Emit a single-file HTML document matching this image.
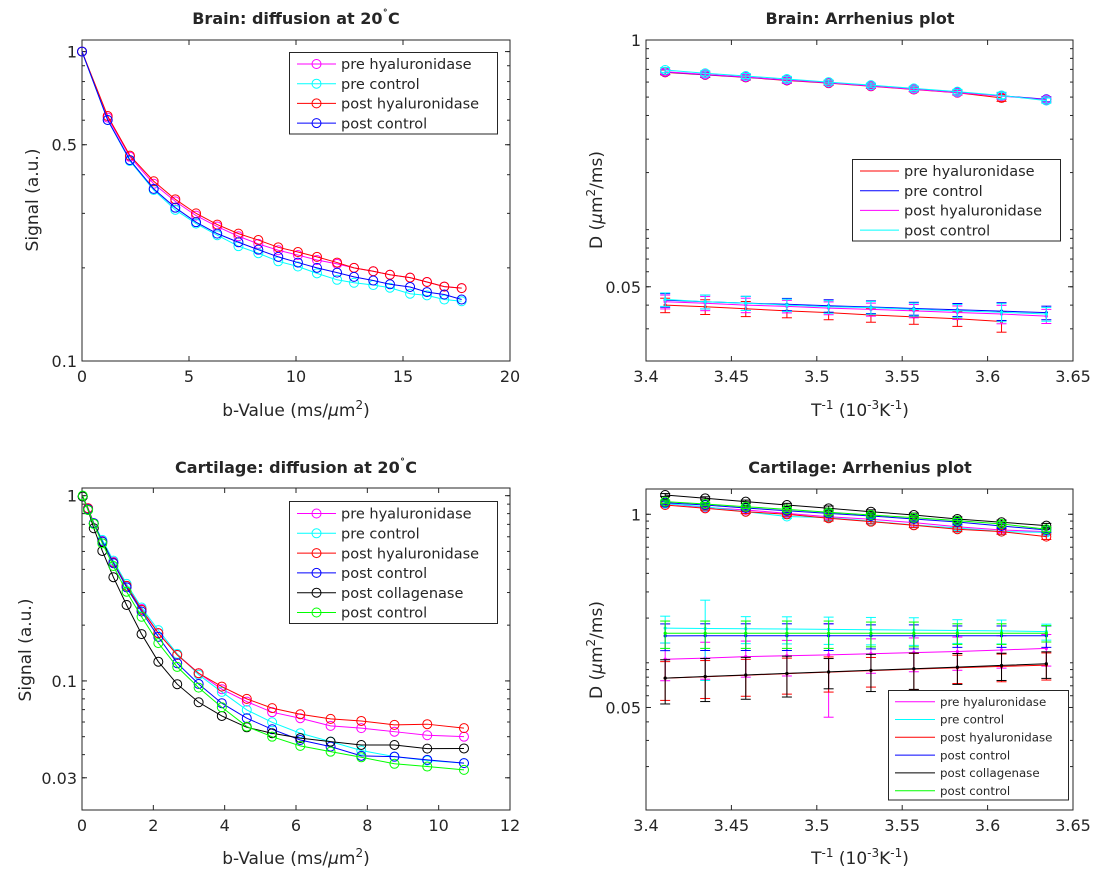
<!DOCTYPE html>
<html><head><meta charset="utf-8">
<style>
body{margin:0;background:#fff;}
svg text{font-family:"DejaVu Sans","Liberation Sans",sans-serif;fill:#262626;}
</style></head>
<body>
<svg id="fig" xmlns="http://www.w3.org/2000/svg" width="1108" height="888" viewBox="0 0 1108 888">
<rect width="1108" height="888" fill="#fff"/>
<text x="296" y="24" text-anchor="middle" font-size="16" font-weight="bold">Brain: diffusion at 20<tspan dy="-6" font-size="11">˚</tspan><tspan dy="6">C</tspan></text>
<text x="860" y="24" text-anchor="middle" font-size="16" font-weight="bold">Brain: Arrhenius plot</text>
<text x="296" y="473" text-anchor="middle" font-size="16" font-weight="bold">Cartilage: diffusion at 20<tspan dy="-6" font-size="11">˚</tspan><tspan dy="6">C</tspan></text>
<text x="860" y="473" text-anchor="middle" font-size="16" font-weight="bold">Cartilage: Arrhenius plot</text>
<text transform="translate(38,200) rotate(-90)" text-anchor="middle" font-size="17">Signal (a.u.)</text>
<text x="296" y="416" text-anchor="middle" font-size="17">b-Value (ms/<tspan font-style="italic">μ</tspan>m<tspan dy="-7" font-size="12">2</tspan><tspan dy="7">)</tspan></text>
<text transform="translate(602,200) rotate(-90)" text-anchor="middle" font-size="17">D (<tspan font-style="italic">μ</tspan>m<tspan dy="-7" font-size="12">2</tspan><tspan dy="7">/ms)</tspan></text>
<text x="860" y="416" text-anchor="middle" font-size="17">T<tspan dy="-7" font-size="12">-1</tspan><tspan dy="7"> (10</tspan><tspan dy="-7" font-size="12">-3</tspan><tspan dy="7">K</tspan><tspan dy="-7" font-size="12">-1</tspan><tspan dy="7">)</tspan></text>
<text transform="translate(31,650) rotate(-90)" text-anchor="middle" font-size="17">Signal (a.u.)</text>
<text x="296" y="864" text-anchor="middle" font-size="17">b-Value (ms/<tspan font-style="italic">μ</tspan>m<tspan dy="-7" font-size="12">2</tspan><tspan dy="7">)</tspan></text>
<text transform="translate(602,650) rotate(-90)" text-anchor="middle" font-size="17">D (<tspan font-style="italic">μ</tspan>m<tspan dy="-7" font-size="12">2</tspan><tspan dy="7">/ms)</tspan></text>
<text x="860" y="864" text-anchor="middle" font-size="17">T<tspan dy="-7" font-size="12">-1</tspan><tspan dy="7"> (10</tspan><tspan dy="-7" font-size="12">-3</tspan><tspan dy="7">K</tspan><tspan dy="-7" font-size="12">-1</tspan><tspan dy="7">)</tspan></text>
</svg>
<script>
// ---------- Data ----------
const brainB = [0,1.20,2.24,3.35,4.36,5.33,6.32,7.31,8.24,9.17,10.09,10.98,11.92,12.71,13.61,14.39,15.33,16.12,16.93,17.74];
const brainPreHyal = [1,0.612,0.457,0.374,0.328,0.295,0.272,0.253,0.239,0.228,0.220,0.212,0.206,0.200,0.195,0.190,0.186,0.180,0.174,0.172];
const brainPreCtrl = [1,0.601,0.443,0.357,0.308,0.278,0.255,0.235,0.223,0.210,0.202,0.192,0.183,0.179,0.176,0.1725,0.165,0.163,0.158,0.156];
const brainPostHyal = [1,0.619,0.461,0.381,0.333,0.300,0.276,0.258,0.246,0.233,0.225,0.217,0.208,0.200,0.195,0.190,0.186,0.180,0.174,0.172];
const brainPostCtrl = [1,0.601,0.446,0.360,0.313,0.281,0.258,0.242,0.229,0.217,0.208,0.200,0.193,0.187,0.182,0.177,0.1735,0.167,0.164,0.158];

const tempsC = [20,18,16,14,12,10,8,6,4,2];
const brainUpPreHyal = [0.675,0.655,0.635,0.612,0.592,0.570,0.548,0.527,0.495];
const brainUpPreCtrl = [0.678,0.657,0.637,0.614,0.595,0.573,0.551,0.530,0.508,0.487];
const brainUpPostHyal = [0.680,0.659,0.638,0.615,0.595,0.572,0.550,0.528,0.506,0.484];
const brainUpPostCtrl = [0.695,0.668,0.646,0.623,0.600,0.578,0.556,0.534,0.510,0.479];
const brainLoPreHyal = [0.0400,0.0392,0.0383,0.0373,0.0365,0.0355,0.0347,0.0339,0.0328];
const brainLoPreCtrl = [0.0425,0.0417,0.0410,0.0404,0.0397,0.0391,0.0384,0.0378,0.0372,0.0365];
const brainLoPostHyal = [0.0417,0.0409,0.0400,0.0394,0.0386,0.0380,0.0373,0.0366,0.0359,0.0350];
const brainLoPostCtrl = [0.0429,0.0417,0.0410,0.0400,0.0392,0.0388,0.0380,0.0373,0.0367,0.0359];
const brainUpErr = [0.02,0.02,0.02,0.02,0.015,0.015,0.015,0.015,0.02,0.015];
const brainLoErr = [0.0035,0.0035,0.0035,0.003,0.003,0.003,0.003,0.003,0.004,0.003];

const cartB = [0.02,0.17,0.33,0.57,0.88,1.25,1.67,2.14,2.67,3.27,3.92,4.62,5.33,6.12,6.97,7.83,8.76,9.68,10.71];
const cartPreHyal = [0.99,0.855,0.71,0.57,0.44,0.326,0.245,0.181,0.139,0.110,0.0902,0.0773,0.0678,0.0629,0.0572,0.0556,0.0532,0.0509,0.0500];
const cartPreCtrl = [0.99,0.845,0.71,0.577,0.446,0.334,0.249,0.188,0.140,0.108,0.0872,0.0697,0.0598,0.0522,0.0470,0.0421,0.0390,0.0372,0.0360];
const cartPostHyal = [0.99,0.855,0.71,0.565,0.435,0.326,0.242,0.181,0.138,0.110,0.0932,0.080,0.0713,0.0661,0.0624,0.0608,0.0579,0.0584,0.0556];
const cartPostCtrl = [0.99,0.845,0.71,0.565,0.432,0.320,0.237,0.173,0.1246,0.0963,0.0758,0.0629,0.0548,0.0480,0.0442,0.0394,0.0390,0.0375,0.0360];
const cartPostColl = [0.99,0.837,0.667,0.503,0.363,0.257,0.179,0.127,0.096,0.0767,0.0647,0.0562,0.0522,0.0491,0.0470,0.0451,0.0451,0.0431,0.0432];
const cartPostCtrl2 = [1.0,0.837,0.704,0.553,0.417,0.303,0.222,0.160,0.119,0.092,0.0721,0.0567,0.0500,0.0446,0.0415,0.0387,0.0357,0.0345,0.0331];

const cartUpPreHyal = [1.18,1.114,1.069,1.015,0.963,0.925,0.878,0.825,0.784,0.764];
const cartUpPreCtrl = [1.18,1.125,1.041,0.966,0.949,0.900,0.847,0.809,0.765,0.755];
const cartUpPostHyal = [1.155,1.097,1.041,1.0,0.940,0.892,0.843,0.793,0.764,0.707];
const cartUpPostCtrl = [1.197,1.155,1.102,1.057,1.015,0.974,0.930,0.888,0.834,0.784];
const cartUpPostColl = [1.349,1.281,1.216,1.155,1.097,1.041,0.989,0.930,0.884,0.838];
const cartUpPostCtrl2 = [1.216,1.173,1.125,1.080,1.031,0.989,0.949,0.906,0.861,0.793];
const cartLoPreHyal = [0.1057,0.1075,0.110,0.1115,0.113,0.115,0.117,0.119,0.122,0.125];
const cartLoPreCtrl = [0.171,0.170,0.1695,0.169,0.168,0.167,0.166,0.165,0.164,0.162];
const cartLoPostHyal = [0.0788,0.0805,0.0825,0.0845,0.0865,0.0886,0.0906,0.0925,0.0945,0.0965];
const cartLoPostCtrl = [0.1517,0.152,0.152,0.152,0.152,0.152,0.152,0.152,0.152,0.152];
const cartLoPostColl = [0.0788,0.0808,0.0828,0.0848,0.0868,0.0890,0.0912,0.0935,0.0960,0.0985];
const cartLoPostCtrl2 = [0.158,0.158,0.158,0.158,0.158,0.158,0.158,0.158,0.158,0.158];
const cartUpErr = [0.03,0.03,0.03,0.03,0.04,0.03,0.03,0.03,0.03,0.03];
const cartLoErrPreHyal = [0.03,0.03,0.03,0.03,0.07,0.03,0.03,0.03,0.03,0.03];
const cartLoErrPreCtrl = [0.035,0.094,0.035,0.035,0.035,0.035,0.035,0.03,0.03,0.02];
const cartLoErrPostHyal = [0.023,0.023,0.023,0.023,0.023,0.02,0.025,0.02,0.02,0.02];
const cartLoErrPostCtrl = [0.031,0.031,0.031,0.031,0.031,0.028,0.028,0.025,0.025,0.025];
const cartLoErrPostColl = [0.026,0.026,0.026,0.026,0.02,0.025,0.025,0.022,0.02,0.02];
const cartLoErrPostCtrl2 = [0.033,0.033,0.033,0.033,0.033,0.03,0.03,0.025,0.025,0.02];

const brainXTicks = [0,5,10,15,20];
const cartXTicks = [0,2,4,6,8,10,12];
const arrXTicks = [3.4,3.45,3.5,3.55,3.6,3.65];
const brainYTicks = [0.1,0.5,1];
const brainArrYTicks = [0.05,1];
const cartYTicks = [0.03,0.1,1];
const cartArrYTicks = [0.05,1];

// ---------- Drawing ----------
const svg = document.getElementById('fig');
const NS = 'http://www.w3.org/2000/svg';
function mk(tag, attrs, parent){
  const e = document.createElementNS(NS, tag);
  for (const k in attrs) e.setAttribute(k, attrs[k]);
  (parent||svg).appendChild(e);
  return e;
}
function makePanel(name, x0,x1,y0,y1,xmin,xmax,ymin,ymax){
  const g = mk('g',{});
  
  
  const lmin=Math.log10(ymin), lmax=Math.log10(ymax);
  return {g,x0,x1,y0,y1,
    sx: v => x0 + (v-xmin)/(xmax-xmin)*(x1-x0),
    sy: v => y0 + (lmax-Math.log10(v))/(lmax-lmin)*(y1-y0),
    ymin, ymax};
}
function axes(p, xticks, xlabels, yticks, ylabels){
  const ax = mk('g',{}, p.g);
  
  
  mk('rect',{x:p.x0,y:p.y0,width:p.x1-p.x0,height:p.y1-p.y0,fill:'none',stroke:'#262626','stroke-width':1}, ax);
  xticks.forEach((t,i)=>{
    const x=p.sx(t);
    mk('line',{x1:x,x2:x,y1:p.y1,y2:p.y1-5,stroke:'#262626'},ax);
    mk('line',{x1:x,x2:x,y1:p.y0,y2:p.y0+5,stroke:'#262626'},ax);
    const tx = mk('text',{x:x,y:p.y1+21,'text-anchor':'middle','font-size':16},ax);
    tx.textContent = xlabels[i];
    
    
  });
  const d0=Math.floor(Math.log10(p.ymin)), d1=Math.ceil(Math.log10(p.ymax));
  for(let d=d0; d<=d1; d++){
    for(let m=1;m<10;m++){
      const v=m*Math.pow(10,d);
      if(v<p.ymin||v>p.ymax) continue;
      const y=p.sy(v);
      mk('line',{x1:p.x0,x2:p.x0+3,y1:y,y2:y,stroke:'#262626'},ax);
      mk('line',{x1:p.x1,x2:p.x1-3,y1:y,y2:y,stroke:'#262626'},ax);
    }
  }
  yticks.forEach((t,i)=>{
    const y=p.sy(t);
    mk('line',{x1:p.x0,x2:p.x0+5,y1:y,y2:y,stroke:'#262626'},ax);
    mk('line',{x1:p.x1,x2:p.x1-5,y1:y,y2:y,stroke:'#262626'},ax);
    const tx = mk('text',{x:p.x0-5,y:y+6,'text-anchor':'end','font-size':16},ax);
    tx.textContent = ylabels[i];
    
    
  });
}
function series(p, name, xs, ys, color, marker, err){
  const g = mk('g',{}, p.g);
  
  
  const pts = ys.map((v,i)=>p.sx(xs[i]).toFixed(2)+','+p.sy(v).toFixed(2)).join(' ');
  const pl = mk('polyline',{points:pts,fill:'none',stroke:color,'stroke-width':1},g);
  
  
  ys.forEach((v,i)=>{
    const x=p.sx(xs[i]), y=p.sy(v);
    if(err){
      const e=err[i];
      const ya=p.sy(v+e), yb=p.sy(Math.max(v-e, p.ymin*1.01));
      mk('line',{x1:x,x2:x,y1:ya,y2:yb,stroke:color,'stroke-width':1},g);
      mk('line',{x1:x-5,x2:x+5,y1:ya,y2:ya,stroke:color,'stroke-width':1},g);
      mk('line',{x1:x-5,x2:x+5,y1:yb,y2:yb,stroke:color,'stroke-width':1},g);
    }
    if(marker==='o'){
      const c = mk('circle',{cx:x,cy:y,r:4.5,fill:'none',stroke:color,'stroke-width':1},g);
      
      
    } else if(marker==='.'){
      const c = mk('circle',{cx:x,cy:y,r:1.6,fill:color},g);
      
      
    }
  });
}
function legend(p, name, x,y,w,h, entries, colors, fs, dy, marker, lineX0, lineX1, textX, firstY){
  const g = mk('g',{}, p.g);
  
  
  mk('rect',{x:x,y:y,width:w,height:h,fill:'#fff',stroke:'#262626','stroke-width':1},g);
  entries.forEach((t,i)=>{
    const yy = firstY + i*dy;
    const eg = mk('g',{},g);
    
    
    mk('line',{x1:lineX0,x2:lineX1,y1:yy,y2:yy,stroke:colors[i],'stroke-width':1},eg);
    if(marker) mk('circle',{cx:(lineX0+lineX1)/2,cy:yy,r:4.5,fill:'none',stroke:colors[i]},eg);
    const tx = mk('text',{x:textX,y:yy+fs*0.36,'font-size':fs},eg);
    tx.textContent = t;
  });
}
const tempsX = tempsC.map(t=>1000/(273.15+t));

const p1 = makePanel('brain-diffusion-chart',82,510,40,361,0,20,0.1,1.09);
axes(p1, brainXTicks, brainXTicks.map(String), brainYTicks, ['0.1','0.5','1']);
series(p1,'brain-pre-hyaluronidase',brainB,brainPreHyal,'#ff00ff','o');
series(p1,'brain-pre-control',brainB,brainPreCtrl,'#00ffff','o');
series(p1,'brain-post-hyaluronidase',brainB,brainPostHyal,'#ff0000','o');
series(p1,'brain-post-control',brainB,brainPostCtrl,'#0000ff','o');
legend(p1,'brain-diffusion-legend',289.5,52.5,208,81.5,['pre hyaluronidase','pre control','post hyaluronidase','post control'],['#ff00ff','#00ffff','#ff0000','#0000ff'],14.5,19.7,true,297,336,341,64);

const p2 = makePanel('brain-arrhenius-chart',646,1073,40,361,3.4,3.65,0.0203,1);
axes(p2, arrXTicks, ['3.4','3.45','3.5','3.55','3.6','3.65'], brainArrYTicks, ['0.05','1']);
series(p2,'brain-arr-up-pre-hyal',tempsX,brainUpPreHyal,'#ff0000','o',brainUpErr);
series(p2,'brain-arr-up-pre-ctrl',tempsX,brainUpPreCtrl,'#0000ff','o',brainUpErr);
series(p2,'brain-arr-up-post-hyal',tempsX,brainUpPostHyal,'#ff00ff','o',brainUpErr);
series(p2,'brain-arr-up-post-ctrl',tempsX,brainUpPostCtrl,'#00ffff','o',brainUpErr);
series(p2,'brain-arr-lo-pre-hyal',tempsX,brainLoPreHyal,'#ff0000','.',brainLoErr);
series(p2,'brain-arr-lo-pre-ctrl',tempsX,brainLoPreCtrl,'#0000ff','.',brainLoErr);
series(p2,'brain-arr-lo-post-hyal',tempsX,brainLoPostHyal,'#ff00ff','.',brainLoErr);
series(p2,'brain-arr-lo-post-ctrl',tempsX,brainLoPostCtrl,'#00ffff','.',brainLoErr);
legend(p2,'brain-arrhenius-legend',852.5,159.5,208,81.5,['pre hyaluronidase','pre control','post hyaluronidase','post control'],['#ff0000','#0000ff','#ff00ff','#00ffff'],14.5,19.7,false,860,899,904,171);

const p3 = makePanel('cartilage-diffusion-chart',82,510,488,810,0,12,0.0201,1.10);
axes(p3, cartXTicks, cartXTicks.map(String), cartYTicks, ['0.03','0.1','1']);
series(p3,'cart-pre-hyaluronidase',cartB,cartPreHyal,'#ff00ff','o');
series(p3,'cart-pre-control',cartB,cartPreCtrl,'#00ffff','o');
series(p3,'cart-post-hyaluronidase',cartB,cartPostHyal,'#ff0000','o');
series(p3,'cart-post-control',cartB,cartPostCtrl,'#0000ff','o');
series(p3,'cart-post-collagenase',cartB,cartPostColl,'#000000','o');
series(p3,'cart-post-control-2',cartB,cartPostCtrl2,'#00ff00','o');
legend(p3,'cartilage-diffusion-legend',289.5,501.5,208,122,['pre hyaluronidase','pre control','post hyaluronidase','post control','post collagenase','post control'],['#ff00ff','#00ffff','#ff0000','#0000ff','#000000','#00ff00'],14.5,19.8,true,297,336,341,513.5);

const p4 = makePanel('cartilage-arrhenius-chart',646,1073,489,810,3.4,3.65,0.0102,1.48);
axes(p4, arrXTicks, ['3.4','3.45','3.5','3.55','3.6','3.65'], cartArrYTicks, ['0.05','1']);
series(p4,'cart-arr-up-pre-hyal',tempsX,cartUpPreHyal,'#ff00ff','o',cartUpErr);
series(p4,'cart-arr-up-pre-ctrl',tempsX,cartUpPreCtrl,'#00ffff','o',cartUpErr);
series(p4,'cart-arr-up-post-hyal',tempsX,cartUpPostHyal,'#ff0000','o',cartUpErr);
series(p4,'cart-arr-up-post-ctrl',tempsX,cartUpPostCtrl,'#0000ff','o',cartUpErr);
series(p4,'cart-arr-up-post-coll',tempsX,cartUpPostColl,'#000000','o',cartUpErr);
series(p4,'cart-arr-up-post-ctrl2',tempsX,cartUpPostCtrl2,'#00ff00','o',cartUpErr);
series(p4,'cart-arr-lo-pre-hyal',tempsX,cartLoPreHyal,'#ff00ff','.',cartLoErrPreHyal);
series(p4,'cart-arr-lo-pre-ctrl',tempsX,cartLoPreCtrl,'#00ffff','.',cartLoErrPreCtrl);
series(p4,'cart-arr-lo-post-hyal',tempsX,cartLoPostHyal,'#ff0000','.',cartLoErrPostHyal);
series(p4,'cart-arr-lo-post-ctrl',tempsX,cartLoPostCtrl,'#0000ff','.',cartLoErrPostCtrl);
series(p4,'cart-arr-lo-post-coll',tempsX,cartLoPostColl,'#000000','.',cartLoErrPostColl);
series(p4,'cart-arr-lo-post-ctrl2',tempsX,cartLoPostCtrl2,'#00ff00','.',cartLoErrPostCtrl2);
legend(p4,'cartilage-arrhenius-legend',888.5,690.5,180,109.5,['pre hyaluronidase','pre control','post hyaluronidase','post control','post collagenase','post control'],['#ff00ff','#00ffff','#ff0000','#0000ff','#000000','#00ff00'],11.8,17.8,false,895,935,940,701.7);
</script>
</body></html>
